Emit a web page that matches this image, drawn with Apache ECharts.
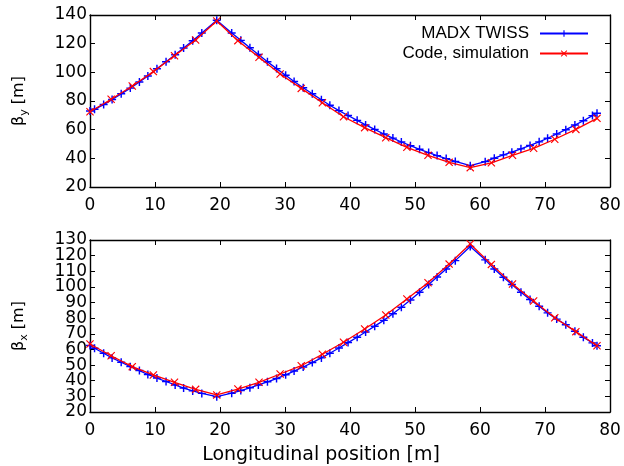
<!DOCTYPE html>
<html><head><meta charset="utf-8">
<script src="https://cdn.jsdelivr.net/npm/echarts@6/dist/echarts.min.js"></script>
<style>html,body{margin:0;padding:0;background:#fff}#c{width:624px;height:466px}</style>
</head><body><div id="c"></div>
<script>
// Positions (m)
const madxS = [0, 0.7, 2.1, 3.4, 4.8, 6.2, 7.6, 8.9, 10.3, 11.7, 13.1, 14.4, 15.8, 17.2, 19.5,
  21.8, 23.2, 24.6, 25.9, 27.3, 28.7, 30.1, 31.4, 32.8, 34.2, 35.6, 36.9, 38.3, 39.7, 41.1, 42.4,
  43.8, 45.2, 46.6, 47.9, 49.3, 50.7, 52.1, 53.4, 54.8, 56.2, 58.5,
  60.8, 62.2, 63.6, 64.9, 66.3, 67.7, 69.1, 70.4, 71.8, 73.2, 74.6, 75.9, 77.3, 78.0];
const madxBetaY = [73.0, 74.2, 77.5, 81.0, 85.0, 89.0, 93.3, 97.5, 102.5, 107.4, 112.3, 117.0, 122.0, 127.5, 136.3,
  127.5, 122.3, 117.2, 112.4, 107.4, 102.6, 98.0, 93.6, 89.3, 85.0, 80.9, 77.0, 73.3, 69.9, 66.5, 63.3,
  60.2, 57.0, 54.1, 51.4, 48.8, 46.3, 44.0, 41.9, 39.8, 37.8, 34.9,
  37.7, 40.1, 42.4, 44.3, 46.6, 49.0, 51.5, 54.0, 57.0, 60.0, 63.2, 66.2, 69.8, 71.5];
const madxBetaX = [62.5, 60.8, 57.6, 54.6, 51.8, 49.0, 46.5, 44.0, 41.7, 39.5, 37.3, 35.3, 33.5, 31.9, 29.8,
  32.0, 33.7, 35.5, 37.3, 39.3, 41.4, 43.8, 46.2, 48.8, 51.6, 54.6, 57.6, 60.9, 64.4, 67.8, 71.2,
  74.9, 78.6, 82.8, 87.0, 91.6, 96.6, 101.5, 106.3, 111.5, 116.8, 125.8,
  117.3, 111.4, 106.2, 101.5, 96.6, 91.9, 87.6, 83.4, 79.4, 75.8, 71.6, 67.8, 64.2, 62.4];

const simS = [0, 3.25, 6.5, 9.75, 13, 16.25, 19.5, 22.75, 26, 29.25, 32.5, 35.75, 39,
  42.25, 45.5, 48.75, 52, 55.25, 58.5, 61.75, 65, 68.25, 71.5, 74.75, 78];
const simBetaY = [72.5, 81.2, 90.5, 100.5, 111.6, 122.6, 135.8, 122.1, 110.5, 98.8, 88.8, 78.8, 69.0,
  61.4, 54.4, 47.7, 42.1, 37.2, 33.5, 36.9, 42.1, 47.0, 53.3, 60.2, 67.9];
const simBetaX = [63.5, 56.0, 49.0, 43.7, 39.0, 34.5, 30.9, 34.7, 39.0, 44.3, 49.6, 56.9, 64.6,
  73.1, 82.0, 92.3, 102.7, 114.6, 127.4, 114.4, 101.9, 91.0, 80.3, 71.4, 62.4];

const seriesNames = ['MADX TWISS', 'Code, simulation'];
const xAxisTitle = 'Longitudinal position [m]';

const pair = (xs, ys) => xs.map((x, i) => [x, ys[i]]);
const PLUS = 'path://M4.1,0H5.9V4.1H10V5.9H5.9V10H4.1V5.9H0V4.1H4.1Z';
const CROSS = 'path://M0,1L1,0L5,4L9,0L10,1L6,5L10,9L9,10L5,6L1,10L0,9L4,5Z';
const TICKF = 'DejaVu Sans';
const line = {lineStyle: {color: '#000', width: 1.4}};

function xAx(g, pos) {
  return {type: 'value', gridIndex: g, min: 0, max: 80, interval: 10, position: pos,
    axisLine: Object.assign({onZero: false}, line),
    axisTick: {inside: true, length: 5, lineStyle: {color: '#000', width: 1}},
    splitLine: {show: false},
    axisLabel: {show: pos === 'bottom', color: '#000', fontFamily: TICKF, fontSize: 17, margin: 10,
      hideOverlap: false, showMinLabel: true, showMaxLabel: true},
    name: (g === 1 && pos === 'bottom') ? xAxisTitle : '',
    nameLocation: 'middle', nameGap: 34,
    nameTextStyle: {color: '#000', fontFamily: TICKF, fontSize: 19, padding: [0, 58, 0, 0]}};
}
// parity: null = all labels, 0/1 = only even/odd steps (used to avoid auto-hiding of dense labels)
function yAx(g, pos, mn, mx, iv, sub, parity, bare) {
  return {type: 'value', gridIndex: g, min: mn, max: mx, interval: iv, position: pos,
    axisLine: Object.assign({onZero: false, show: !bare}, line),
    axisTick: {show: !bare, inside: true, length: 5, lineStyle: {color: '#000', width: 1}},
    splitLine: {show: false},
    axisLabel: {show: pos === 'left', color: '#000', fontFamily: TICKF, fontSize: 17, margin: 3,
      hideOverlap: false, showMinLabel: true, showMaxLabel: true,
      formatter: v => (parity === null || Math.round((v - mn) / iv) % 2 === parity) ? String(v) : ''},
    name: (pos === 'left' && !bare) ? '{a|β}{b|' + sub + '}{a| [m]}' : '',
    nameLocation: 'middle', nameGap: 60,
    nameTextStyle: {color: '#000', rich: {
      a: {fontFamily: TICKF, fontSize: 16, lineHeight: 22, verticalAlign: 'middle', color: '#000'},
      b: {fontFamily: TICKF, fontSize: 11, lineHeight: 11, verticalAlign: 'bottom', color: '#000'}}}};
}
function ser(name, g, data, color, sym) {
  return {name: name, type: 'line', xAxisIndex: g * 2, yAxisIndex: g * 2, data: data,
    symbol: sym, symbolSize: 8, showSymbol: true, showAllSymbol: true,
    lineStyle: {color: color, width: 1.3}, itemStyle: {color: color},
    emphasis: {disabled: true}, animation: false, z: name === seriesNames[1] ? 3 : 2};
}
const legendBase = {orient: 'vertical', right: 30, itemWidth: 48, itemHeight: 8, itemGap: 6,
  align: 'right', textStyle: {fontFamily: 'Liberation Sans', fontSize: 17, color: '#000', padding: [0, 6, 0, 0]}};

const chart = echarts.init(document.getElementById('c'));
chart.setOption({
  animation: false,
  backgroundColor: '#fff',
  grid: [
    {left: 90, right: 14, top: 15, height: 172},
    {left: 90, right: 14, top: 240, height: 172}
  ],
  xAxis: [xAx(0, 'bottom'), xAx(0, 'top'), xAx(1, 'bottom'), xAx(1, 'top')],
  yAxis: [yAx(0, 'left', 20, 140, 20, 'y', null, false), yAx(0, 'right', 20, 140, 20, 'y', null, false),
          yAx(1, 'left', 20, 130, 10, 'x', 0, false), yAx(1, 'right', 20, 130, 10, 'x', null, false),
          yAx(1, 'left', 20, 130, 10, 'x', 1, true)],
  legend: [
    Object.assign({}, legendBase, {top: 20, data: [seriesNames[0]]}),
    Object.assign({}, legendBase, {top: 40, data: [seriesNames[1]]})
  ],
  series: [
    ser(seriesNames[0], 0, pair(madxS, madxBetaY), '#0000ff', PLUS),
    ser(seriesNames[1], 0, pair(simS, simBetaY), '#ff0000', CROSS),
    ser(seriesNames[0], 1, pair(madxS, madxBetaX), '#0000ff', PLUS),
    ser(seriesNames[1], 1, pair(simS, simBetaX), '#ff0000', CROSS)
  ]
});
</script></body></html>
